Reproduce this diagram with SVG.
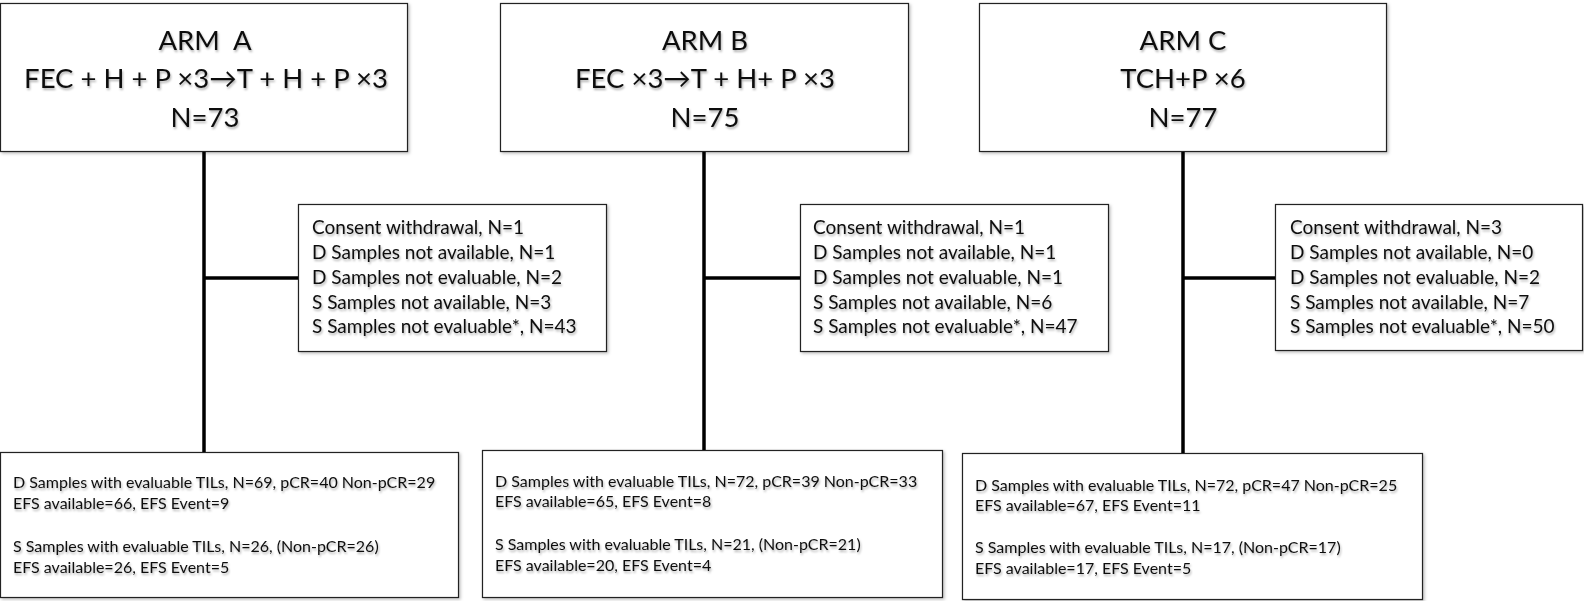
<svg xmlns="http://www.w3.org/2000/svg" width="1584" height="601" viewBox="0 0 1584 601">
<defs>
<filter id="ts" x="-5%" y="-30%" width="110%" height="160%">
<feDropShadow dx="1" dy="2" stdDeviation="1.2" flood-color="#000" flood-opacity="0.3"/>
</filter>
<filter id="bs" x="-5%" y="-5%" width="110%" height="110%">
<feDropShadow dx="1.5" dy="1.5" stdDeviation="1.5" flood-color="#000" flood-opacity="0.25"/>
</filter>
<style>
.box{fill:#fff;stroke:#222;stroke-width:1.2;filter:url(#bs)}
.t{font-family:Lato,"Open Sans","Liberation Sans",sans-serif;fill:#111;filter:url(#ts)}
.title{font-size:27.5px;text-anchor:middle}
.side{font-size:19px}
.bot{font-size:16px}
.ln{stroke:#000;stroke-width:3.5;fill:none}
</style>
</defs>
<g id="connectors">
<line class="ln" x1="204" y1="151" x2="204" y2="452"/>
<line class="ln" x1="204" y1="278" x2="298" y2="278"/>
<line class="ln" x1="704" y1="152" x2="704" y2="450"/>
<line class="ln" x1="704" y1="278" x2="800" y2="278"/>
<line class="ln" x1="1183" y1="152" x2="1183" y2="453"/>
<line class="ln" x1="1183" y1="278" x2="1276" y2="278"/>
</g>
<g id="armA">
<rect class="box" x="0.5" y="3.5" width="407" height="148"/>
<text class="t title" x="205" y="50" xml:space="preserve">ARM  A</text>
<text class="t title" x="206" y="88">FEC + H + P ×3→T + H + P ×3</text>
<text class="t title" x="205" y="127">N=73</text>
</g>
<g id="armB">
<rect class="box" x="500.5" y="3.5" width="408" height="148"/>
<text class="t title" x="705" y="50">ARM B</text>
<text class="t title" x="705" y="88">FEC ×3→T + H+ P ×3</text>
<text class="t title" x="705" y="127">N=75</text>
</g>
<g id="armC">
<rect class="box" x="979.5" y="3.5" width="407" height="148"/>
<text class="t title" x="1183" y="50">ARM C</text>
<text class="t title" x="1183" y="88">TCH+P ×6</text>
<text class="t title" x="1183" y="127">N=77</text>
</g>
<g id="exclA">
<rect class="box" x="298.5" y="204.5" width="308" height="147"/>
<text class="t side" x="312" y="234">Consent withdrawal, N=1</text>
<text class="t side" x="312" y="259">D Samples not available, N=1</text>
<text class="t side" x="312" y="284">D Samples not evaluable, N=2</text>
<text class="t side" x="312" y="309">S Samples not available, N=3</text>
<text class="t side" x="312" y="333">S Samples not evaluable*, N=43</text>
</g>
<g id="exclB">
<rect class="box" x="800.5" y="204.5" width="308" height="147"/>
<text class="t side" x="813" y="234">Consent withdrawal, N=1</text>
<text class="t side" x="813" y="259">D Samples not available, N=1</text>
<text class="t side" x="813" y="284">D Samples not evaluable, N=1</text>
<text class="t side" x="813" y="309">S Samples not available, N=6</text>
<text class="t side" x="813" y="333">S Samples not evaluable*, N=47</text>
</g>
<g id="exclC">
<rect class="box" x="1275.5" y="204.5" width="307" height="146"/>
<text class="t side" x="1290" y="234">Consent withdrawal, N=3</text>
<text class="t side" x="1290" y="259">D Samples not available, N=0</text>
<text class="t side" x="1290" y="284">D Samples not evaluable, N=2</text>
<text class="t side" x="1290" y="309">S Samples not available, N=7</text>
<text class="t side" x="1290" y="333">S Samples not evaluable*, N=50</text>
</g>
<g id="resA">
<rect class="box" x="0.5" y="452.5" width="458" height="145"/>
<text class="t bot" x="13" y="488">D Samples with evaluable TILs, N=69, pCR=40 Non-pCR=29</text>
<text class="t bot" x="13" y="509">EFS available=66, EFS Event=9</text>
<text class="t bot" x="13" y="552">S Samples with evaluable TILs, N=26, (Non-pCR=26)</text>
<text class="t bot" x="13" y="573">EFS available=26, EFS Event=5</text>
</g>
<g id="resB">
<rect class="box" x="482.5" y="450.5" width="460" height="147"/>
<text class="t bot" x="495" y="487">D Samples with evaluable TILs, N=72, pCR=39 Non-pCR=33</text>
<text class="t bot" x="495" y="507">EFS available=65, EFS Event=8</text>
<text class="t bot" x="495" y="550">S Samples with evaluable TILs, N=21, (Non-pCR=21)</text>
<text class="t bot" x="495" y="571">EFS available=20, EFS Event=4</text>
</g>
<g id="resC">
<rect class="box" x="962.5" y="453.5" width="460" height="146"/>
<text class="t bot" x="975" y="491">D Samples with evaluable TILs, N=72, pCR=47 Non-pCR=25</text>
<text class="t bot" x="975" y="511">EFS available=67, EFS Event=11</text>
<text class="t bot" x="975" y="553">S Samples with evaluable TILs, N=17, (Non-pCR=17)</text>
<text class="t bot" x="975" y="574">EFS available=17, EFS Event=5</text>
</g>
</svg>
